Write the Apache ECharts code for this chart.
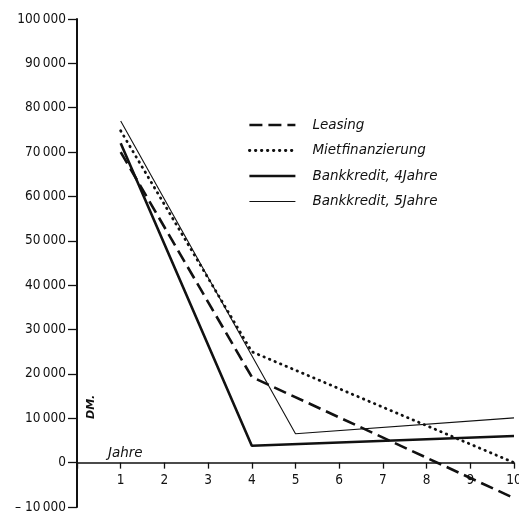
<!DOCTYPE html>
<html><head><meta charset="utf-8">
<script src="https://cdn.jsdelivr.net/npm/echarts@6/dist/echarts.min.js"></script>
<style>html,body{margin:0;padding:0;background:#fff}#c{width:519px;height:512px}</style>
</head><body><div id="c"></div>
<script>
var seriesNames = ['Leasing', 'Mietfinanzierung', 'Bankkredit, 4Jahre', 'Bankkredit, 5Jahre'];
var leasing = [[1, 70000], [4, 19300], [10, -8000]];
var mietfinanzierung = [[1, 74800], [4, 25000], [10, 0]];
var bankkredit4 = [[1, 72000], [4, 3800], [10, 6000]];
var bankkredit5 = [[1, 77000], [5, 6500], [10, 10100]];
var xTicks = [1, 2, 3, 4, 5, 6, 7, 8, 9, 10];
var yTicks = [-10000, 0, 10000, 20000, 30000, 40000, 50000, 60000, 70000, 80000, 90000, 100000];
var yMin = -10000, yMax = 100000;

function fmt(v) {
  var a = Math.abs(v);
  var s = a >= 1000 ? Math.floor(a / 1000) + '\u2009000' : String(a);
  return v < 0 ? '\u2013 ' + s : s;
}
var el = document.getElementById('c');
var chart = echarts.init(el);
var labFont = "'Liberation Sans Narrow','DejaVu Sans Condensed','Liberation Sans',sans-serif";
var itFont = "'DejaVu Sans',sans-serif";
var gTop = 19, gBottom = 5;
var plotH = 512 - gTop - gBottom;
var zeroOffset = -plotH * (0 - yMin) / (yMax - yMin);
var styles = [
  { color: '#111', width: 2.6, type: [13, 6] },
  { color: '#111', width: 2.8, type: [0.5, 5.5], cap: 'round' },
  { color: '#111', width: 2.6, type: 'solid' },
  { color: '#111', width: 1.1, type: 'solid' }
];
var datas = [leasing, mietfinanzierung, bankkredit4, bankkredit5];
chart.setOption({
  animation: false,
  backgroundColor: '#fff',
  color: ['#111', '#111', '#111', '#111'],
  grid: { left: 77, right: 5, top: gTop, bottom: gBottom, outerBoundsMode: 'none', containLabel: false },
  legend: {
    orient: 'vertical', left: 248, top: 118, padding: 0,
    itemWidth: 46, itemHeight: 14, itemGap: 11.5,
    itemStyle: { opacity: 0 },
    data: seriesNames.map(function (n, i) { return { name: n, lineStyle: styles[i] }; }),
    textStyle: { fontFamily: itFont, fontStyle: 'italic', fontSize: 13.5, color: '#111', padding: [0, 0, 0, 12] }
  },
  xAxis: {
    type: 'value', min: 0, max: 10, interval: 1,
    position: 'bottom', offset: zeroOffset,
    axisLine: { onZero: false, lineStyle: { color: '#111', width: 1.5 } },
    axisTick: { show: true, length: 6, lineStyle: { color: '#111', width: 1.3 } },
    axisLabel: {
      margin: 11, color: '#111', fontSize: 13.5, fontFamily: labFont, showMaxLabel: true,
      formatter: function (v) { return xTicks.indexOf(v) >= 0 ? String(v) : ''; }
    },
    splitLine: { show: false }
  },
  yAxis: {
    type: 'value', min: yMin, max: yMax, interval: 10000,
    axisLine: { show: true, onZero: false, lineStyle: { color: '#111', width: 2 } },
    axisTick: { show: true, length: 9, lineStyle: { color: '#111', width: 1.3 } },
    axisLabel: {
      margin: 11, color: '#111', fontSize: 13.5, fontFamily: labFont,
      formatter: function (v) { return yTicks.indexOf(v) >= 0 ? fmt(v) : ''; }
    },
    splitLine: { show: false }
  },
  graphic: [
    { type: 'text', left: 108, top: 446, style: { text: 'Jahre', fontFamily: itFont, fontStyle: 'italic', fontSize: 13.5, fill: '#111' } },
    { type: 'text', x: 86, y: 419, rotation: Math.PI / 2, style: { text: 'DM.', fontFamily: itFont, fontStyle: 'italic', fontWeight: 'bold', fontSize: 11, fill: '#111' } }
  ],
  series: seriesNames.map(function (n, i) {
    return { name: n, type: 'line', data: datas[i], symbol: 'none', itemStyle: { color: '#111' }, lineStyle: styles[i] };
  })
});
</script></body></html>
